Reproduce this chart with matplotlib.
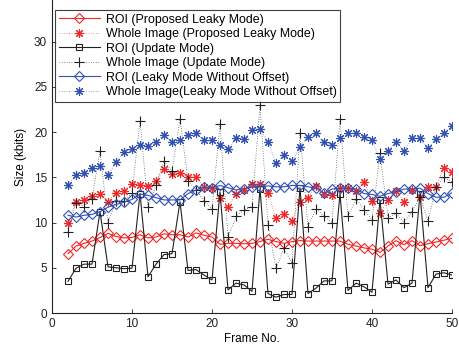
import matplotlib
matplotlib.use("Agg")
import matplotlib.pyplot as plt

frames = list(range(2, 51))

roi_leaky = [6.55, 7.4, 7.7, 7.95, 8.35, 8.8, 8.45, 8.3, 8.35, 8.65, 8.3, 8.4, 8.75, 8.65,
             8.65, 8.4, 8.85, 8.6, 8.4, 7.6, 7.7, 7.7, 7.65, 7.7, 7.9, 8.15, 7.9, 7.7, 7.9,
             8.0, 7.95, 7.95, 7.95, 7.95, 7.95, 7.6, 7.4, 7.2, 7.05, 6.7, 7.4, 8.0, 7.55,
             8.0, 7.45, 7.65, 7.85, 8.05, 8.25]
whole_leaky = [10.0, 12.3, 12.5, 12.9, 13.1, 12.3, 13.3, 13.5, 14.3, 14.15, 14.05, 14.6, 15.9,
               15.4, 15.5, 15.05, 15.0, 13.9, 13.8, 12.7, 11.75, 13.2, 13.65, 14.3, 14.3, 13.3,
               10.45, 10.9, 10.2, 12.3, 12.75, 14.05, 13.1, 13.0, 13.8, 13.8, 13.5, 14.5, 12.4,
               11.0, 12.5, 13.5, 12.3, 13.65, 12.85, 13.95, 13.95, 16.0, 15.6]
roi_update = [3.5, 4.95, 5.4, 5.4, 11.2, 5.1, 5.0, 4.9, 4.95, 13.2, 4.0, 5.4, 6.45, 6.55,
              12.3, 4.7, 4.8, 4.2, 3.65, 13.4, 2.55, 3.3, 3.1, 2.4, 13.75, 2.15, 1.75, 2.05,
              2.05, 13.85, 2.15, 2.75, 3.55, 3.55, 13.2, 2.5, 3.3, 2.9, 2.3, 12.5, 3.2, 3.65,
              2.8, 3.3, 13.2, 2.8, 4.3, 4.45, 4.2]
whole_update = [9.0, 12.2, 11.75, 12.65, 17.9, 10.0, 12.4, 12.4, 13.3, 21.25, 11.75, 14.15,
                16.8, 15.7, 21.5, 14.6, 13.65, 12.4, 11.5, 20.9, 8.35, 10.7, 11.4, 11.75, 23.0,
                9.7, 4.95, 7.15, 5.5, 19.95, 9.5, 11.55, 10.7, 10.0, 21.4, 10.7, 12.65, 11.4,
                10.3, 17.65, 10.55, 11.0, 10.0, 11.2, 12.85, 10.15, 13.95, 15.0, 14.5]
roi_nooff = [10.8, 10.6, 10.8, 10.9, 11.2, 11.7, 12.0, 12.25, 12.55, 13.15, 13.0, 12.75, 12.5,
             12.5, 12.5, 13.2, 13.6, 13.9, 13.85, 14.1, 13.85, 13.6, 13.75, 13.9, 13.95, 14.05,
             13.95, 13.95, 14.1, 14.1, 13.95, 13.8, 13.25, 13.7, 13.8, 13.8, 13.7, 13.2, 13.1,
             12.9, 13.2, 13.4, 13.7, 13.7, 13.8, 13.2, 12.8, 12.8, 13.3]
whole_nooff = [14.2, 15.2, 15.5, 16.05, 16.3, 15.25, 16.7, 17.8, 18.1, 18.55, 18.45, 18.95,
               19.65, 18.95, 19.1, 19.7, 19.85, 19.1, 19.1, 18.6, 18.1, 19.35, 19.2, 20.2,
               20.35, 18.95, 16.6, 17.45, 16.8, 18.4, 19.5, 19.85, 18.85, 18.6, 19.3, 19.85,
               19.85, 19.5, 19.1, 17.0, 17.9, 18.95, 17.9, 19.3, 19.3, 18.2, 19.2, 19.85, 20.65]

labels = ["ROI (Proposed Leaky Mode)", "Whole Image (Proposed Leaky Mode)",
          "ROI (Update Mode)", "Whole Image (Update Mode)",
          "ROI (Leaky Mode Without Offset)", "Whole Image(Leaky Mode Without Offset)"]

plt.rcParams['font.family'] = ['Liberation Sans', 'DejaVu Sans']
RED = '#f02828'
BLUE = '#3050b4'
BLACK = '#222222'
DOT = (0, (1, 2.5))
AST = (8, 2, 0)

fig = plt.figure(figsize=(4.59, 3.5), dpi=100)
ax = fig.add_axes([52/459, 37/350, 400/459, 313/350])

ax.plot(frames, roi_leaky, '-', color=RED, lw=0.8, marker='D', ms=5.5, mfc='none', mew=0.8, label=labels[0])
ax.plot(frames, whole_leaky, linestyle=DOT, color=RED, lw=0.5, marker=AST, ms=6.5, mew=0.8, label=labels[1])
ax.plot(frames, roi_update, '-', color=BLACK, lw=0.8, marker='s', ms=5, mfc='none', mew=0.8, label=labels[2])
ax.plot(frames, whole_update, linestyle=DOT, color=BLACK, lw=0.5, marker='+', ms=7, mew=0.8, label=labels[3])
ax.plot(frames, roi_nooff, '-', color=BLUE, lw=0.8, marker='D', ms=5.5, mfc='none', mew=0.8, label=labels[4])
ax.plot(frames, whole_nooff, linestyle=DOT, color=BLUE, lw=0.5, marker=AST, ms=6.5, mew=0.8, label=labels[5])

ax.set_xlim(0, 50)
ax.set_ylim(0, 34.6)
ax.set_xticks([0, 10, 20, 30, 40, 50])
ax.set_yticks([0, 5, 10, 15, 20, 25, 30])
ax.tick_params(direction='in', labelsize=8.5, length=3, width=0.6, colors=BLACK)
for s in ['top', 'right']:
    ax.spines[s].set_visible(False)
for s in ['left', 'bottom']:
    ax.spines[s].set_linewidth(0.8)
    ax.spines[s].set_color(BLACK)

ax.set_xlabel('Frame No.', fontsize=8.5, labelpad=2)
ax.set_ylabel('Size (kbits)', fontsize=8.5, labelpad=5)

leg = ax.legend(loc='upper left', bbox_to_anchor=(0.008, 0.968), fontsize=8.9, frameon=True,
                fancybox=False, edgecolor='#111111', handlelength=3.3, handletextpad=0.5,
                borderpad=0.3, labelspacing=0.2, borderaxespad=0)
leg.get_frame().set_linewidth(0.8)

fig.savefig('out.png', dpi=100)
